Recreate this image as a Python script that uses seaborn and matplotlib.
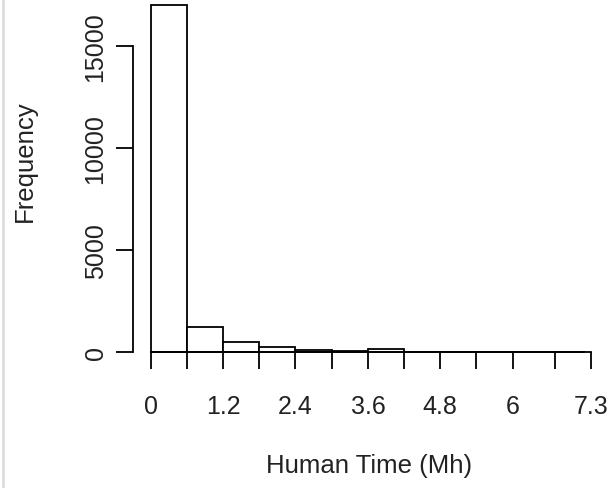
import numpy as np
import seaborn as sns
import matplotlib.pyplot as plt
from matplotlib.lines import Line2D

# histogram of human time (Mh), bins of width 0.6
bin_edges = [0.0, 0.6, 1.2, 1.8, 2.4, 3.0, 3.6, 4.2, 4.8, 5.4, 6.0, 6.6, 7.2]
counts = [17010, 1250, 470, 250, 80, 50, 170, 0, 0, 0, 0, 0]

x_ticks = [0, 0.6, 1.2, 1.8, 2.4, 3.0, 3.6, 4.2, 4.8, 5.4, 6.0, 6.7, 7.3]
x_tick_labels = ["0", "", "1.2", "", "2.4", "", "3.6", "", "4.8", "", "6", "", "7.3"]
y_ticks = [0, 5000, 10000, 15000]


def main():
    sns.set_style("white")
    plt.rcParams['font.family'] = ['Liberation Sans', 'DejaVu Sans']

    fig = plt.figure(figsize=(6.15, 4.89), dpi=100)
    # axes placed so that data coordinates land where the reference puts them
    ax = fig.add_axes([100 / 615, (489 - 372) / 489, 510 / 615, 370 / 489])

    mids = [(a + b) / 2 for a, b in zip(bin_edges[:-1], bin_edges[1:])]
    sns.histplot(x=mids, weights=counts, bins=bin_edges, color="white",
                 edgecolor="black", linewidth=1.3, alpha=1, ax=ax)

    ax.set_xlim(-0.84, 7.613)
    ax.set_ylim(-933, 17229)

    for s in ["top", "right"]:
        ax.spines[s].set_visible(False)
    ax.spines["left"].set_position(("data", -0.30))
    ax.spines["left"].set_bounds(0, 15000)
    ax.spines["bottom"].set_position(("data", 0))
    ax.spines["bottom"].set_bounds(0, 7.3)
    for s in ["left", "bottom"]:
        ax.spines[s].set_color("black")
        ax.spines[s].set_linewidth(1.3)
        ax.spines[s].set_zorder(3)

    ax.set_xticks(x_ticks)
    ax.set_xticklabels(x_tick_labels)
    ax.set_yticks(y_ticks)
    ax.set_yticklabels([str(v) for v in y_ticks])
    ax.tick_params(axis="both", direction="out", length=12, width=1.3,
                   color="black", labelsize=18, labelcolor="#222222",
                   bottom=True, left=True)
    ax.tick_params(axis="x", pad=18)
    ax.tick_params(axis="y", pad=6)
    plt.setp(ax.get_yticklabels(), rotation=90, va="center")

    ax.set_xlabel("")
    ax.set_ylabel("")
    fig.text(369 / 615, 1 - 466 / 489, "Human Time (Mh)", fontsize=18.5,
             color="#222222", ha="center", va="center")
    fig.text(25 / 615, 1 - 161 / 489, "Frequency", fontsize=18.5,
             color="#222222", ha="center", va="center", rotation=90)

    # faint border on the left edge of the picture
    fig.add_artist(Line2D([3 / 615, 3 / 615], [0, 1], color="#dddddd", lw=2))

    fig.savefig("out.png", dpi=100)


if __name__ == "__main__":
    main()
